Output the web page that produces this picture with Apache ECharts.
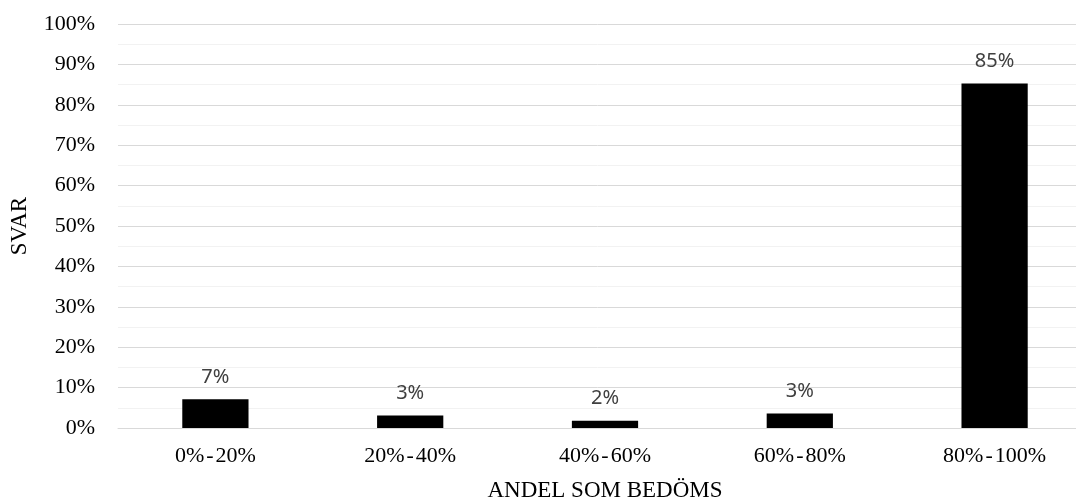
<!DOCTYPE html>
<html>
<head>
<meta charset="utf-8">
<script src="https://cdn.jsdelivr.net/npm/echarts@6/dist/echarts.min.js"></script>
<style>
html,body{margin:0;padding:0;background:#fff;}
#chart{width:1076px;height:500px;}
</style>
</head>
<body>
<div id="chart"></div>
<script>
var categories = ['0%-20%', '20%-40%', '40%-60%', '60%-80%', '80%-100%'];
var values = [7.1, 3.1, 1.8, 3.6, 85.3];
var labels = ['7%', '3%', '2%', '3%', '85%'];
var xTitle = 'ANDEL SOM BEDÖMS';
var yTitle = 'SVAR';

var chart = echarts.init(document.getElementById('chart'), null, {renderer: 'canvas'});
var serif = '"Liberation Serif", "Times New Roman", serif';
chart.setOption({
  animation: false,
  backgroundColor: '#ffffff',
  grid: {left: 118, right: -16, top: 24, bottom: 72, containLabel: false, outerBoundsMode: 'none'},
  xAxis: {
    type: 'category',
    data: categories,
    name: xTitle,
    nameLocation: 'middle',
    nameGap: 51,
    nameTextStyle: {fontFamily: serif, fontSize: 23, color: '#000'},
    axisLine: {show: true, lineStyle: {color: '#d9d9d9', width: 1}},
    axisTick: {show: false},
    axisLabel: {
      interval: 0,
      hideOverlap: false,
      fontFamily: serif, fontSize: 22, color: '#000', margin: 17,
      formatter: function (v) {
        var parts = v.split('-');
        return '{t|' + parts[0] + '}{h|-}{t|' + parts[1] + '}';
      },
      rich: {
        t: {fontFamily: serif, fontSize: 22, color: '#000'},
        h: {fontFamily: serif, fontSize: 22, color: '#000', padding: [0, 2, 0, 2]}
      }
    }
  },
  yAxis: {
    type: 'value',
    min: 0, max: 100, interval: 10,
    name: yTitle,
    nameLocation: 'middle',
    nameGap: 87,
    nameRotate: 90,
    nameTextStyle: {fontFamily: serif, fontSize: 23, color: '#000'},
    axisLine: {show: false},
    axisTick: {show: false},
    axisLabel: {fontFamily: serif, fontSize: 22, color: '#000', margin: 23, formatter: '{value}%'},
    splitLine: {show: true, lineStyle: {color: '#d9d9d9', width: 1}},
    minorTick: {show: false, splitNumber: 2},
    minorSplitLine: {show: true, lineStyle: {color: '#f2f2f2', width: 1}}
  },
  series: [{
    type: 'bar',
    data: values,
    barWidth: '34%',
    itemStyle: {color: '#000000'},
    label: {
      show: true,
      position: 'top',
      distance: 12,
      fontFamily: '"Noto Sans", "Open Sans", sans-serif',
      fontSize: 20,
      color: '#404040',
      formatter: function (p) { return labels[p.dataIndex]; }
    }
  }]
});
</script>
</body>
</html>
